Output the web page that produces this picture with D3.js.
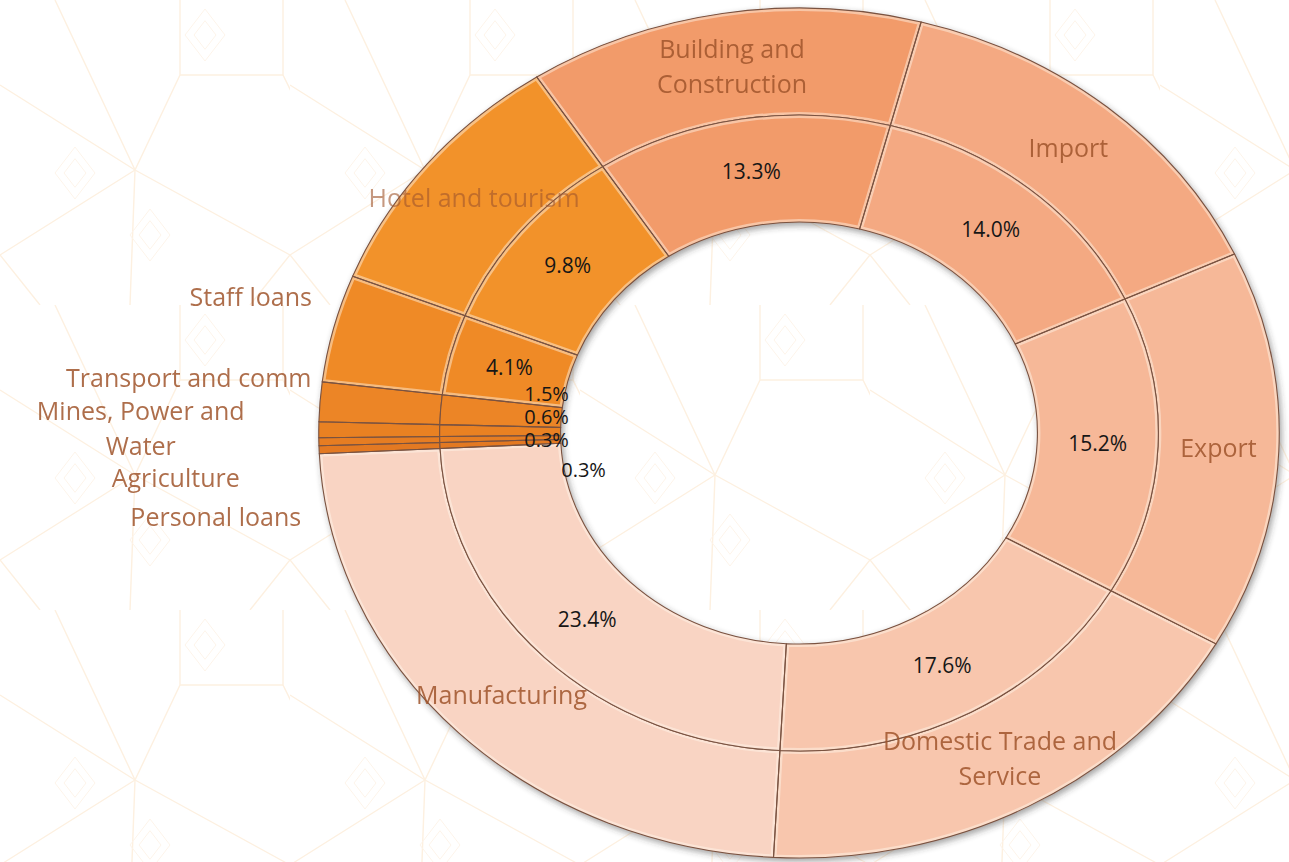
<!DOCTYPE html>
<meta charset="utf-8">
<script src="https://d3js.org/d3.v7.min.js"></script>
<style>
  body { margin: 0; background: #fff; }
  text { font-family: "Open Sans", "DejaVu Sans", sans-serif; }
</style>
<body>
<div id="my_dataviz"></div>
<script>

// data, counter-clockwise from about 9 o'clock
var categories = ["Manufacturing", "Domestic Trade and|Service", "Export", "Import",
  "Building and|Construction", "Hotel and tourism", "Staff loans", "Transport and comm",
  "Mines, Power and|Water", "Agriculture", "Personal loans"]
var shares = [23.4, 17.6, 15.2, 14.0, 13.3, 9.8, 4.1, 1.5, 0.6, 0.3, 0.3]
var sliceColors = ["#f9d4c3", "#f8c6ad", "#f6b898", "#f4a982", "#f29b6b", "#f2922c",
  "#ef8a27", "#ec8525", "#e98124", "#e67d22", "#e37920"]

var width = 1289, height = 862
var cx = 799, cy = 433, sx = 1.13
var rOuter = 425, rMid = 318, rInner = 211

var svg = d3.select("#my_dataviz")
  .append("svg")
    .attr("width", width)
    .attr("height", height)

var defs = svg.append("defs")

// faint background pattern
var pat = defs.append("pattern")
  .attr("id", "bgpat")
  .attr("patternUnits", "userSpaceOnUse")
  .attr("width", 290).attr("height", 305)
var patLines = [[135,170,0,85],[135,170,55,0],[135,170,180,75],[135,170,290,255],[135,170,0,255],
  [135,170,130,305],[180,75,283,75],[180,75,180,0],[283,75,283,0],[283,75,330,170],
  [0,255,40,305],[290,255,250,305]]
pat.selectAll("line").data(patLines).enter().append("line")
  .attr("x1", function(d){ return d[0] }).attr("y1", function(d){ return d[1] })
  .attr("x2", function(d){ return d[2] }).attr("y2", function(d){ return d[3] })
  .attr("stroke", "#fdf0e0").attr("stroke-width", 1.4)
var diamonds = [[205,35],[75,173],[150,235]]
diamonds.forEach(function(p){
  [20, 11].forEach(function(s){
    pat.append("path")
      .attr("d", "M" + p[0] + "," + (p[1]-s*1.3) + "L" + (p[0]+s) + "," + p[1] + "L" + p[0] + "," + (p[1]+s*1.3) + "L" + (p[0]-s) + "," + p[1] + "Z")
      .attr("fill", "none").attr("stroke", "#fdf4ea").attr("stroke-width", 1)
  })
})
svg.append("rect").attr("width", width).attr("height", height).attr("fill", "url(#bgpat)")

// drop shadow round the rings
var sh = defs.append("filter").attr("id", "shadow").attr("x", "-10%").attr("y", "-10%").attr("width", "120%").attr("height", "120%")
sh.append("feDropShadow").attr("dx", 2).attr("dy", 3).attr("stdDeviation", 3)
  .attr("flood-color", "#333").attr("flood-opacity", 0.45)

var color = d3.scaleOrdinal().domain(categories).range(sliceColors)

var a0 = 267.2 * Math.PI / 180
var pie = d3.pie()
  .value(function(d){ return d.value })
  .sort(null)
  .startAngle(a0)
  .endAngle(a0 - 2 * Math.PI)
var data_ready = pie(categories.map(function(c, i){ return {key: c, value: shares[i]} }))

var arcIn = d3.arc().innerRadius(rInner).outerRadius(rMid)
var arcOut = d3.arc().innerRadius(rMid).outerRadius(rOuter)

var ring = svg.append("g").attr("filter", "url(#shadow)")
  .append("g")
    .attr("transform", "translate(" + cx + "," + cy + ") scale(" + sx + ",1)")

;[["o", arcOut], ["i", arcIn]].forEach(function(pair){
  var arc = pair[1]
  // clip paths so the soft highlight stays inside each slice
  defs.selectAll(null)
    .data(data_ready)
    .enter()
    .append("clipPath")
      .attr("id", function(d, i){ return "clip" + pair[0] + i })
    .append("path")
      .attr("d", arc)
  var g = ring.append("g")
  g.selectAll("path.fill")
    .data(data_ready)
    .enter()
    .append("path")
      .attr("class", "fill")
      .attr("d", arc)
      .attr("fill", function(d){ return color(d.data.key) })
  g.selectAll("path.glow")
    .data(data_ready.filter(function(d){ return d.data.value > 2 }))
    .enter()
    .append("path")
      .attr("class", "glow")
      .attr("d", arc)
      .attr("clip-path", function(d){ return "url(#clip" + pair[0] + d.index + ")" })
      .attr("fill", "none")
      .attr("stroke", "#fff8ee")
      .attr("stroke-opacity", 0.45)
      .attr("stroke-width", 6)
      .attr("vector-effect", "non-scaling-stroke")
  g.selectAll("path.edge")
    .data(data_ready)
    .enter()
    .append("path")
      .attr("class", "edge")
      .attr("d", arc)
      .attr("fill", "none")
      .attr("stroke", "#7a5240")
      .attr("stroke-width", 1.1)
      .attr("vector-effect", "non-scaling-stroke")
})

function place(arc, d) {
  var c = arc.centroid(d)
  return [cx + sx * c[0], cy + c[1]]
}

// percentage labels on the inner ring (the tiny ones stacked by the hole, as in the original)
var leftHole = cx - sx * rInner
var smallPct = {7: [-14, -39], 8: [-14, -16], 9: [-14, 7], 10: [23, 37]}
svg.append("g").selectAll("text")
  .data(data_ready)
  .enter()
  .append("text")
    .attr("x", function(d, i){ return smallPct[i] ? leftHole + smallPct[i][0] : place(arcIn, d)[0] })
    .attr("y", function(d, i){ return smallPct[i] ? cy + smallPct[i][1] : place(arcIn, d)[1] })
    .attr("dy", "0.35em")
    .attr("text-anchor", "middle")
    .style("font-size", function(d, i){ return smallPct[i] ? "20px" : "21px" })
    .style("fill", "#161616")
    .text(function(d){ return d.data.value.toFixed(1) + "%" })

// category labels: on the outer ring, small slices pulled out to the left
var leftRing = cx - sx * rOuter
var outside = {6: [-68, -136], 7: [-130, -55], 8: [-178, -22], 9: [-143, 45], 10: [-103, 84]}
var cat = svg.append("g").selectAll("text")
  .data(data_ready)
  .enter()
  .append("text")
    .attr("text-anchor", "middle")
    .style("font-size", "25px")
    .style("fill", "#a0552c")
    .style("opacity", function(d, i){ return i == 5 ? 0.6 : 0.85 })
cat.each(function(d, i){
  var p = outside[i] ? [leftRing + outside[i][0], cy + outside[i][1]] : place(arcOut, d)
  var lines = d.data.key.split("|")
  var t = d3.select(this)
  lines.forEach(function(l, k){
    t.append("tspan")
      .attr("x", p[0])
      .attr("y", p[1])
      .attr("dy", (0.35 + (k - (outside[i] ? 0 : (lines.length - 1) / 2)) * 1.4) + "em")
      .text(l)
  })
})

</script>
</body>
